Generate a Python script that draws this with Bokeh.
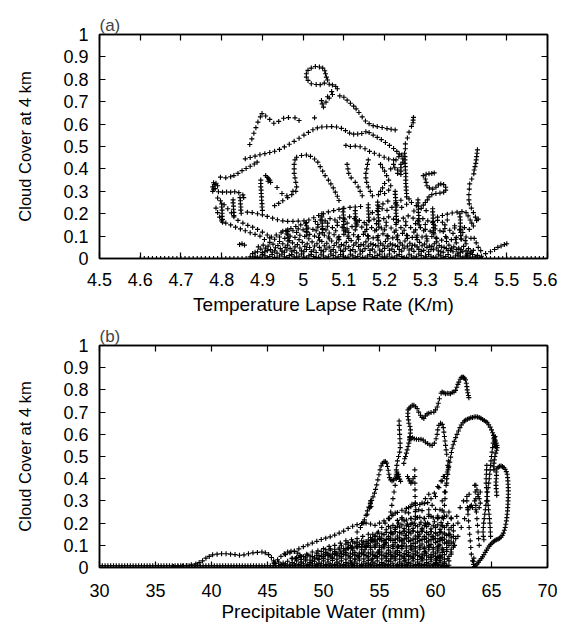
from bokeh.plotting import figure
from bokeh.models import FixedTicker, LinearAxis, CustomJSTickFormatter
from bokeh.layouts import column
from bokeh.embed import file_html
from bokeh.resources import INLINE

# ---------------- tick values ----------------
a_xticks = [4.5, 4.6, 4.7, 4.8, 4.9, 5.0, 5.1, 5.2, 5.3, 5.4, 5.5, 5.6]
b_xticks = [30, 35, 40, 45, 50, 55, 60, 65, 70]
yticks = [0, 0.1, 0.2, 0.3, 0.4, 0.5, 0.6, 0.7, 0.8, 0.9, 1.0]

# ================= panel (a): lapse rate (K/m) vs cloud cover =================
a_base_x = [4.60, 4.61, 4.62, 4.63, 4.64, 4.65, 4.66, 4.67, 4.68, 4.69, 4.70, 4.71, 4.72,
            4.73, 4.74, 4.75, 4.76, 4.77, 4.78, 4.79, 4.80, 4.81, 4.82, 4.83, 4.84, 4.85,
            4.86, 4.87, 4.88, 5.44, 5.45, 5.46, 5.47, 5.48, 5.49, 5.50, 5.51, 5.52, 5.53,
            5.54, 5.55, 5.56, 5.57, 5.58, 5.59, 5.60]

a_top_loop = [(5.020,0.780),(5.012,0.795),(5.008,0.810),(5.008,0.825),(5.012,0.840),(5.020,0.850),
    (5.030,0.857),(5.040,0.855),(5.048,0.850),(5.053,0.838),(5.055,0.825),(5.057,0.810),(5.060,0.797),
    (5.052,0.783),(5.042,0.776),(5.032,0.777),(5.064,0.778),(5.072,0.775),(5.080,0.768),(5.084,0.758),
    (5.045,0.705),(5.047,0.690),(5.050,0.676),(5.056,0.698),(5.064,0.716),(5.072,0.732),(5.070,0.745),
    (5.060,0.722),(5.090,0.726),(5.100,0.720),(5.108,0.707),(5.116,0.693),(5.124,0.680),(5.130,0.668),
    (5.137,0.652),(5.145,0.632),(5.153,0.614),(5.162,0.602),(5.172,0.593),(5.182,0.589),(5.194,0.585),
    (5.206,0.580),(5.216,0.577),(5.226,0.574)]

a_arcs = [(4.858,0.445),(4.870,0.451),(4.882,0.457),(4.894,0.463),(4.906,0.468),(4.918,0.473),
    (4.930,0.479),(4.942,0.487),(4.954,0.498),(4.966,0.510),(4.978,0.523),(4.990,0.537),(5.002,0.551),
    (5.013,0.563),(5.024,0.575),(5.035,0.583),(5.046,0.587),(5.058,0.588),(5.070,0.589),(5.082,0.587),
    (5.094,0.581),(5.104,0.571),(5.114,0.560),(5.124,0.555),(5.134,0.556),(5.144,0.558),(5.154,0.566),
    (5.162,0.562),(5.172,0.551),(5.182,0.541),(5.192,0.531),(5.202,0.518),(5.212,0.505),(5.222,0.491),
    (5.230,0.478),(5.236,0.467),
    (5.105,0.505),(5.116,0.500),(5.128,0.502),(5.140,0.499),(5.152,0.490),(5.163,0.478),(5.175,0.470),
    (5.187,0.461),(5.199,0.452),(5.210,0.444),(5.222,0.440),
    (4.869,0.509),(4.874,0.534),(4.879,0.559),(4.884,0.584),(4.889,0.609),(4.895,0.632),(4.899,0.647),
    (4.908,0.636),(4.918,0.621),(4.928,0.604),(4.940,0.612),(4.952,0.626),(4.964,0.629),(4.980,0.628),
    (4.990,0.616),(5.028,0.628)]

a_hook = [(4.984,0.452),(4.996,0.460),(5.008,0.462),(5.018,0.456),(5.028,0.444),(5.036,0.430),
    (5.042,0.410),(5.048,0.390),(5.054,0.370),(5.062,0.350),(5.068,0.333),(5.074,0.315),(5.079,0.296),
    (5.084,0.278),(5.088,0.259),(4.980,0.440),(4.978,0.420),(4.978,0.400),(4.978,0.380),(4.980,0.360),
    (4.982,0.340),(4.984,0.320),(4.982,0.300),(4.972,0.285),(4.962,0.272),(4.950,0.258),(4.940,0.246),
    (4.930,0.236),(4.936,0.317),(4.948,0.290),(4.960,0.280),(4.975,0.300)]

a_left = [(4.778,0.300),(4.780,0.310),(4.778,0.320),(4.782,0.330),(4.786,0.336),(4.780,0.338),
    (4.790,0.325),(4.784,0.312),
    (4.797,0.363),(4.810,0.360),(4.822,0.365),(4.830,0.370),(4.840,0.380),(4.850,0.392),(4.860,0.402),
    (4.870,0.412),(4.880,0.422),(4.887,0.430),
    (4.792,0.298),(4.802,0.296),(4.812,0.297),(4.822,0.296),(4.832,0.298),(4.842,0.294),(4.852,0.284),
    (4.854,0.272),
    (4.790,0.270),(4.797,0.258),(4.806,0.240),(4.815,0.222),(4.824,0.204),(4.830,0.186),(4.840,0.170),
    (4.852,0.158),(4.864,0.148),(4.876,0.140),(4.888,0.130),(4.900,0.118),(4.912,0.105),(4.922,0.096),
    (4.786,0.225),(4.790,0.205),(4.795,0.185),(4.800,0.168),(4.810,0.158),(4.822,0.150),(4.834,0.140),
    (4.846,0.132),(4.858,0.124),(4.870,0.115),(4.882,0.108),(4.894,0.100),
    (4.800,0.244),(4.800,0.230),(4.801,0.216),(4.801,0.202),(4.801,0.188),(4.802,0.175),(4.802,0.162),
    (4.828,0.262),(4.828,0.248),(4.829,0.234),(4.829,0.220),(4.830,0.206),(4.830,0.192),
    (4.845,0.272),(4.846,0.258),(4.846,0.244),(4.847,0.230),(4.847,0.216),(4.848,0.202),
    (4.896,0.350),(4.896,0.335),(4.896,0.320),(4.897,0.305),(4.897,0.290),(4.898,0.275),(4.898,0.260),
    (4.899,0.245),(4.899,0.230),(4.900,0.215),
    (4.912,0.362),(4.915,0.356),(4.918,0.350),(4.914,0.345),(4.920,0.340),(4.908,0.370),
    (4.850,0.066),(4.844,0.063),(4.856,0.060),
    (4.863,0.207),(4.875,0.205),(4.888,0.200),(4.900,0.195),(4.912,0.188),(4.925,0.180),(4.937,0.173),
    (4.950,0.168),(4.962,0.166),(4.975,0.166),(4.988,0.167),(5.002,0.168),(5.014,0.172),(5.026,0.182),
    (5.038,0.192),(5.050,0.200),(5.062,0.208),(5.075,0.214),(5.088,0.219),(5.100,0.224),(5.115,0.228),
    (5.128,0.230),(5.141,0.232),
    (4.934,0.105),(4.946,0.115),(4.958,0.125),(4.970,0.134),(4.982,0.143),(4.994,0.150),(5.006,0.155)]

a_right = [(5.215,0.400),(5.222,0.420),(5.228,0.440),(5.235,0.455),(5.242,0.462),(5.249,0.470),
    (5.250,0.455),(5.250,0.440),(5.250,0.425),(5.251,0.410),(5.251,0.395),(5.252,0.380),(5.252,0.365),
    (5.252,0.350),(5.252,0.335),(5.253,0.320),(5.253,0.305),(5.254,0.290),(5.254,0.275),(5.240,0.420),
    (5.240,0.405),(5.240,0.390),(5.240,0.375),(5.232,0.395),(5.232,0.380),(5.225,0.405),(5.245,0.430),
    (5.245,0.445),
    (5.251,0.490),(5.251,0.512),(5.256,0.538),(5.260,0.564),(5.266,0.590),(5.270,0.606),(5.270,0.618),
    (5.271,0.630),
    (5.160,0.440),(5.158,0.420),(5.156,0.400),(5.154,0.380),(5.154,0.360),(5.156,0.340),(5.160,0.320),
    (5.165,0.300),(5.170,0.280),
    (5.190,0.420),(5.195,0.405),(5.200,0.390),(5.205,0.370),(5.210,0.350),(5.200,0.335),(5.195,0.315),
    (5.190,0.300),(5.185,0.285),(5.200,0.290),(5.210,0.305),(5.215,0.325),
    (5.108,0.420),(5.110,0.400),(5.112,0.380),(5.118,0.360),(5.128,0.340),(5.135,0.320),(5.140,0.300),
    (5.145,0.280),
    (5.295,0.370),(5.302,0.376),(5.309,0.378),(5.316,0.380),(5.322,0.382),(5.300,0.355),(5.302,0.340),
    (5.304,0.325),(5.310,0.315),(5.318,0.310),(5.326,0.318),(5.332,0.328),(5.338,0.333),(5.345,0.330),
    (5.350,0.318),(5.350,0.305),(5.345,0.296),(5.336,0.292),(5.326,0.290),(5.316,0.285),(5.309,0.275),
    (5.305,0.262),(5.300,0.250),(5.295,0.238),
    (5.428,0.485),(5.427,0.470),(5.426,0.455),(5.425,0.440),(5.424,0.425),(5.422,0.410),(5.420,0.395),
    (5.419,0.378),(5.414,0.355),(5.409,0.333),(5.408,0.310),(5.407,0.285),(5.407,0.262),(5.408,0.244),
    (5.413,0.225),(5.418,0.205),(5.423,0.185),(5.426,0.170),(5.430,0.176),
    (5.330,0.185),(5.342,0.192),(5.354,0.198),(5.366,0.203),(5.378,0.207),(5.390,0.210),(5.400,0.205),
    (5.405,0.190),(5.410,0.172),(5.414,0.158),(5.418,0.145),
    (5.438,0.010),(5.448,0.022),(5.460,0.030),(5.470,0.040),(5.478,0.050),(5.486,0.056),(5.494,0.062),
    (5.500,0.066),(5.436,0.035),(5.430,0.050),(5.425,0.070),(5.420,0.090)]

a_mass = [(4.870,0.008),(4.882,0.010),(4.894,0.006),(4.906,0.012),(4.918,0.009),(4.930,0.005),
    (4.942,0.011),(4.954,0.008),(4.966,0.013),(4.978,0.007),(4.990,0.010),(5.002,0.006),(5.014,0.012),
    (5.026,0.009),(5.038,0.005),(5.050,0.011),(5.062,0.008),(5.074,0.013),(5.086,0.007),(5.098,0.010),
    (5.110,0.006),(5.122,0.012),(5.134,0.009),(5.146,0.005),(5.158,0.011),(5.170,0.008),(5.182,0.013),
    (5.194,0.007),(5.206,0.010),(5.218,0.006),(5.230,0.012),(5.242,0.009),(5.254,0.005),(5.266,0.011),
    (5.278,0.008),(5.290,0.013),(5.302,0.007),(5.314,0.010),(5.326,0.006),(5.338,0.012),(5.350,0.009),
    (5.362,0.005),(5.374,0.011),(5.386,0.008),(5.398,0.010),(5.410,0.006),(5.422,0.008),(5.434,0.004),
    (4.876,0.022),(4.888,0.030),(4.900,0.026),(4.912,0.035),(4.924,0.028),(4.936,0.024),(4.948,0.033),
    (4.960,0.038),(4.972,0.030),(4.984,0.025),(4.996,0.034),(5.008,0.040),(5.020,0.031),(5.032,0.027),
    (5.044,0.036),(5.056,0.042),(5.068,0.033),(5.080,0.028),(5.092,0.037),(5.104,0.043),(5.116,0.035),
    (5.128,0.030),(5.140,0.038),(5.152,0.044),(5.164,0.036),(5.176,0.029),(5.188,0.038),(5.200,0.045),
    (5.212,0.037),(5.224,0.031),(5.236,0.040),(5.248,0.046),(5.260,0.038),(5.272,0.032),(5.284,0.041),
    (5.296,0.036),(5.308,0.030),(5.320,0.039),(5.332,0.034),(5.344,0.028),(5.356,0.035),(5.368,0.030),
    (5.380,0.024),(5.392,0.030),(5.404,0.022),(5.416,0.018),(5.428,0.014),
    (4.890,0.052),(4.902,0.060),(4.914,0.055),(4.926,0.064),(4.938,0.058),(4.950,0.066),(4.962,0.060),
    (4.974,0.070),(4.986,0.062),(4.998,0.072),(5.010,0.065),(5.022,0.074),(5.034,0.066),(5.046,0.076),
    (5.058,0.068),(5.070,0.078),(5.082,0.070),(5.094,0.062),(5.106,0.072),(5.118,0.080),(5.130,0.070),
    (5.142,0.062),(5.154,0.074),(5.166,0.066),(5.178,0.058),(5.190,0.068),(5.202,0.076),(5.214,0.066),
    (5.226,0.058),(5.238,0.070),(5.250,0.078),(5.262,0.068),(5.274,0.060),(5.286,0.072),(5.298,0.064),
    (5.310,0.056),(5.322,0.066),(5.334,0.058),(5.346,0.050),(5.358,0.060),(5.370,0.052),(5.382,0.046),
    (5.394,0.054),(5.406,0.044),(5.418,0.036),
    (4.905,0.085),(4.918,0.092),(4.930,0.086),(4.942,0.096),(4.955,0.090),(4.968,0.100),(4.980,0.094),
    (4.992,0.104),(5.004,0.098),(5.016,0.108),(5.028,0.100),(5.040,0.110),(5.052,0.104),(5.064,0.114),
    (5.076,0.106),(5.088,0.098),(5.100,0.108),(5.112,0.116),(5.124,0.106),(5.136,0.098),(5.148,0.108),
    (5.160,0.100),(5.172,0.092),(5.184,0.102),(5.196,0.110),(5.208,0.100),(5.220,0.092),(5.232,0.104),
    (5.244,0.112),(5.256,0.102),(5.268,0.094),(5.280,0.104),(5.292,0.096),(5.304,0.088),(5.316,0.098),
    (5.328,0.090),(5.340,0.082),(5.352,0.092),(5.364,0.084),(5.376,0.094),(5.388,0.086),(5.400,0.096),
    (5.412,0.090),
    (4.950,0.122),(4.962,0.128),(4.975,0.124),(4.988,0.132),(5.000,0.128),(5.012,0.136),(5.024,0.130),
    (5.036,0.140),(5.048,0.134),(5.060,0.144),(5.072,0.138),(5.084,0.148),(5.096,0.140),(5.108,0.132),
    (5.120,0.142),(5.132,0.150),(5.144,0.140),(5.156,0.130),(5.168,0.138),(5.180,0.128),(5.192,0.136),
    (5.204,0.146),(5.216,0.136),(5.228,0.126),(5.240,0.138),(5.252,0.148),(5.264,0.138),(5.276,0.128),
    (5.288,0.138),(5.300,0.130),(5.312,0.122),(5.324,0.132),(5.336,0.124),(5.348,0.134),(5.360,0.126),
    (5.372,0.136),(5.384,0.128),(5.396,0.138),(5.408,0.130),
    (5.030,0.165),(5.042,0.172),(5.054,0.168),(5.066,0.178),(5.078,0.172),(5.090,0.182),(5.102,0.176),
    (5.114,0.186),(5.126,0.178),(5.138,0.170),(5.150,0.160),(5.162,0.168),(5.174,0.176),(5.186,0.168),
    (5.198,0.178),(5.210,0.186),(5.222,0.176),(5.234,0.168),(5.246,0.180),(5.258,0.190),(5.270,0.180),
    (5.282,0.170),(5.294,0.178),(5.306,0.168),(5.318,0.160),(5.330,0.170),(5.342,0.162),(5.354,0.172),
    (5.170,0.205),(5.182,0.214),(5.194,0.222),(5.206,0.215),(5.218,0.228),(5.230,0.238),(5.242,0.228),
    (5.254,0.242),(5.266,0.250),(5.278,0.236),(5.290,0.224),(5.302,0.214),(5.240,0.260),(5.228,0.250),
    (5.260,0.266),(5.272,0.212),(5.196,0.244),(5.208,0.256),(5.186,0.232)]

a_mass_dense = [(4.876,0.002),(4.888,0.004),(4.900,0.017),(4.912,0.003),(4.924,0.018),(4.936,0.002),
    (4.948,0.019),(4.960,0.004),(4.972,0.017),(4.984,0.003),(4.996,0.020),(5.008,0.002),(5.020,0.018),
    (5.032,0.004),(5.044,0.019),(5.056,0.003),(5.068,0.020),(5.080,0.002),(5.092,0.018),(5.104,0.004),
    (5.116,0.019),(5.128,0.003),(5.140,0.020),(5.152,0.002),(5.164,0.018),(5.176,0.004),(5.188,0.019),
    (5.200,0.003),(5.212,0.020),(5.224,0.002),(5.236,0.018),(5.248,0.004),(5.260,0.019),(5.272,0.003),
    (5.284,0.020),(5.296,0.002),(5.308,0.018),(5.320,0.004),(5.332,0.019),(5.344,0.003),(5.356,0.018),
    (5.368,0.002),(5.380,0.015),(5.392,0.003),(5.404,0.012),(5.416,0.002),(5.428,0.006),
    (4.896,0.042),(4.908,0.046),(4.920,0.040),(4.932,0.048),(4.944,0.044),(4.956,0.050),(4.968,0.045),
    (4.980,0.052),(4.992,0.047),(5.004,0.054),(5.016,0.049),(5.028,0.056),(5.040,0.050),(5.052,0.057),
    (5.064,0.051),(5.076,0.058),(5.088,0.052),(5.100,0.059),(5.112,0.053),(5.124,0.060),(5.136,0.054),
    (5.148,0.061),(5.160,0.055),(5.172,0.062),(5.184,0.056),(5.196,0.060),(5.208,0.055),(5.220,0.061),
    (5.232,0.054),(5.244,0.060),(5.256,0.055),(5.268,0.059),(5.280,0.052),(5.292,0.057),(5.304,0.050),
    (5.316,0.054),(5.328,0.047),(5.340,0.051),(5.352,0.044),(5.364,0.046),(5.376,0.040),(5.388,0.040),
    (5.400,0.034),(5.412,0.030),
    (5.040,0.082),(5.064,0.088),(5.088,0.084),(5.112,0.090),(5.136,0.086),(5.160,0.088),(5.184,0.082),
    (5.208,0.088),(5.232,0.084),(5.256,0.090),(5.280,0.084),(5.304,0.078),(5.328,0.074),(5.352,0.076),
    (5.376,0.070),(5.400,0.066)]

a_mass_extra = [(4.882,0.028),(4.906,0.030),(4.930,0.034),(4.954,0.028),(4.978,0.036),(5.002,0.030),
    (5.026,0.038),(5.050,0.030),(5.074,0.040),(5.098,0.032),(5.122,0.040),(5.146,0.032),(5.170,0.042),
    (5.194,0.032),(5.218,0.042),(5.242,0.033),(5.266,0.043),(5.290,0.032),(5.314,0.040),(5.338,0.030),
    (5.362,0.037),(5.386,0.028),(5.410,0.024),
    (4.918,0.072),(4.942,0.076),(4.966,0.080),(4.990,0.084),(5.014,0.088),(5.038,0.094),(5.062,0.096),
    (5.086,0.092),(5.110,0.100),(5.134,0.096),(5.158,0.102),(5.182,0.094),(5.206,0.102),(5.230,0.096),
    (5.254,0.104),(5.278,0.094),(5.302,0.100),(5.326,0.092),(5.350,0.098),(5.374,0.086),(5.398,0.080),
    (4.960,0.110),(4.984,0.116),(5.008,0.120),(5.032,0.124),(5.056,0.128),(5.080,0.124),(5.104,0.122),
    (5.128,0.128),(5.152,0.120),(5.176,0.124),(5.200,0.128),(5.224,0.118),(5.248,0.126),(5.272,0.118),
    (5.296,0.124),(5.320,0.116),(5.344,0.120),(5.368,0.112),(5.392,0.116),
    (5.036,0.152),(5.060,0.158),(5.084,0.162),(5.108,0.158),(5.132,0.164),(5.156,0.150),(5.180,0.156),
    (5.204,0.162),(5.228,0.152),(5.252,0.164),(5.276,0.156),(5.300,0.152),(5.324,0.146),(5.348,0.150),
    (5.372,0.146)]

a_columns = [(5.046,0.200),(5.046,0.186),(5.046,0.172),(5.047,0.158),(5.047,0.144),(5.047,0.130),(5.048,0.116),
    (5.098,0.222),(5.098,0.208),(5.099,0.194),(5.099,0.180),(5.099,0.166),(5.100,0.152),(5.100,0.138),(5.100,0.124),
    (5.128,0.214),(5.128,0.200),(5.129,0.186),(5.129,0.172),(5.130,0.158),(5.130,0.144),
    (5.183,0.252),(5.183,0.238),(5.184,0.224),(5.184,0.210),(5.184,0.196),(5.185,0.182),(5.185,0.168),
    (5.185,0.154),(5.186,0.140),
    (5.226,0.300),(5.226,0.286),(5.227,0.272),(5.227,0.258),(5.227,0.244),(5.228,0.230),(5.228,0.216),
    (5.228,0.202),(5.229,0.188),(5.229,0.174),(5.229,0.160),
    (5.282,0.262),(5.282,0.248),(5.283,0.234),(5.283,0.220),(5.283,0.206),(5.284,0.192),(5.284,0.178),
    (5.284,0.164),(5.285,0.150),
    (5.318,0.222),(5.318,0.208),(5.319,0.194),(5.319,0.180),(5.319,0.166),(5.320,0.152),(5.320,0.138),
    (5.320,0.124),(5.321,0.110),
    (5.385,0.200),(5.385,0.186),(5.386,0.172),(5.386,0.158),(5.386,0.144),(5.387,0.130),(5.387,0.116),
    (5.387,0.102),(5.388,0.088),
    (5.008,0.160),(5.008,0.146),(5.009,0.132),(5.009,0.118),(5.009,0.104),
    (4.962,0.120),(4.962,0.106),(4.963,0.092),(4.963,0.078),
    (5.160,0.240),(5.160,0.226),(5.160,0.212),(5.161,0.198),(5.161,0.184),(5.161,0.170)]

# ================= panel (b): precipitable water (mm) vs cloud cover =================
b_base0_x = [30.0, 30.5, 31.0, 31.5, 32.0, 32.5, 33.0, 33.5, 34.0, 34.5, 35.0, 35.5, 36.0, 36.5,
             37.0, 37.5, 38.0, 38.5, 39.0, 39.5, 40.0, 40.5, 41.0, 41.5, 42.0, 42.5, 43.0, 43.5,
             44.0, 44.5, 45.0, 45.5, 46.0, 46.5, 47.0, 47.5, 48.0, 48.5, 49.0, 49.5, 50.0, 50.5,
             51.0, 51.5, 52.0, 52.5, 53.0, 53.5, 54.0, 54.5, 55.0, 55.5, 56.0, 56.5, 57.0, 57.5,
             58.0, 58.5, 59.0, 59.5, 60.0, 60.5, 61.0]
b_base1_x = [30.25, 30.75, 31.25, 31.75, 32.25, 32.75, 33.25, 33.75, 34.25, 34.75, 35.25, 35.75,
             36.25, 36.75, 37.25, 37.75, 38.25, 38.75, 39.25, 39.75, 40.25, 40.75, 41.25, 41.75,
             42.25, 42.75, 43.25, 43.75, 44.25, 44.75, 45.25, 45.75, 46.25, 46.75, 47.25, 47.75,
             48.25, 48.75, 49.25, 49.75, 50.25, 50.75, 51.25, 51.75, 52.25, 52.75, 53.25, 53.75,
             54.25, 54.75, 55.25, 55.75, 56.25, 56.75, 57.25, 57.75, 58.25, 58.75, 59.25, 59.75,
             60.25, 60.75]

b_low_chain = [(36.6,0.005),(37.0,0.006),(37.4,0.007),(37.8,0.009),(38.2,0.012),(38.6,0.016),
    (38.9,0.022),(39.2,0.030),(39.5,0.042),(39.8,0.050),(40.1,0.057),(40.5,0.060),(40.9,0.062),
    (41.3,0.062),(41.7,0.060),(42.1,0.058),(42.5,0.055),(42.9,0.057),(43.3,0.062),(43.7,0.066),
    (44.1,0.068),(44.5,0.070),(44.8,0.066),(45.1,0.058),(45.35,0.045),(45.55,0.030),(45.7,0.018),
    (45.6,0.020),(45.9,0.035),(46.2,0.050),(46.5,0.062),(46.8,0.070),(47.1,0.073),(47.4,0.072),
    (47.7,0.065),(47.9,0.055),(47.8,0.045),(47.5,0.040),(47.2,0.042),
    (46.6,0.058),(47.0,0.066),(47.4,0.074),(47.8,0.084),(48.2,0.094),(48.6,0.102),(49.0,0.110),
    (49.4,0.118),(49.8,0.126),(50.2,0.132),(50.6,0.138),(51.0,0.146),(51.4,0.155),(51.8,0.164),
    (52.2,0.176),(52.6,0.186),(53.0,0.193),(53.4,0.198),(53.8,0.200),(54.2,0.196),(54.6,0.190)]

b_fill = [(45.6,0.020),(46.0,0.025),(46.4,0.020),(46.8,0.028),(47.2,0.022),(47.6,0.030),(48.0,0.024),
    (48.4,0.030),(48.8,0.022),(49.2,0.028),(49.6,0.020),(50.0,0.030),(50.4,0.025),(50.8,0.032),
    (51.2,0.024),(51.6,0.030),(52.0,0.022),(52.4,0.030),(52.8,0.025),(53.2,0.033),(53.6,0.026),
    (54.0,0.032),(54.4,0.024),(54.8,0.030),(55.2,0.022),(55.6,0.030),(56.0,0.026),(56.4,0.033),
    (56.8,0.025),(57.2,0.030),(57.6,0.022),(58.0,0.030),(58.4,0.025),(58.8,0.030),(59.2,0.022),
    (59.6,0.028),(60.0,0.020),(60.4,0.024),(60.8,0.016),(61.2,0.010),
    (47.2,0.040),(47.6,0.046),(48.0,0.050),(48.4,0.044),(48.8,0.052),(49.2,0.046),(49.6,0.054),
    (50.0,0.048),(50.4,0.055),(50.8,0.047),(51.2,0.056),(51.6,0.050),(52.0,0.057),(52.4,0.049),
    (52.8,0.056),(53.2,0.050),(53.6,0.058),(54.0,0.050),(54.4,0.057),(54.8,0.049),(55.2,0.056),
    (55.6,0.050),(56.0,0.058),(56.4,0.050),(56.8,0.056),(57.2,0.048),(57.6,0.055),(58.0,0.047),
    (58.4,0.054),(58.8,0.046),(59.2,0.053),(59.6,0.045),(60.0,0.050),(60.4,0.042),(60.8,0.038),
    (61.2,0.030),
    (49.4,0.065),(49.8,0.072),(50.2,0.068),(50.6,0.078),(51.0,0.072),(51.4,0.082),(51.8,0.075),
    (52.2,0.085),(52.6,0.078),(53.0,0.088),(53.4,0.080),(53.8,0.090),(54.2,0.082),(54.6,0.090),
    (55.0,0.080),(55.4,0.088),(55.8,0.078),(56.2,0.086),(56.6,0.076),(57.0,0.085),(57.4,0.075),
    (57.8,0.083),(58.2,0.074),(58.6,0.082),(59.0,0.072),(59.4,0.080),(59.8,0.070),(60.2,0.078),
    (60.6,0.068),(61.0,0.072),(61.4,0.060),
    (51.6,0.098),(52.0,0.105),(52.4,0.100),(52.8,0.110),(53.2,0.104),(53.6,0.115),(54.0,0.108),
    (54.4,0.118),(54.8,0.110),(55.2,0.120),(55.6,0.112),(56.0,0.122),(56.4,0.112),(56.8,0.120),
    (57.2,0.110),(57.6,0.118),(58.0,0.108),(58.4,0.116),(58.8,0.106),(59.2,0.114),(59.6,0.104),
    (60.0,0.112),(60.4,0.102),(60.8,0.110),(61.2,0.100),(61.6,0.092),
    (54.2,0.135),(54.6,0.142),(55.0,0.138),(55.4,0.148),(55.8,0.140),(56.2,0.150),(56.6,0.142),
    (57.0,0.152),(57.4,0.144),(57.8,0.152),(58.2,0.142),(58.6,0.150),(59.0,0.140),(59.4,0.148),
    (59.8,0.138),(60.2,0.146),(60.6,0.136),(61.0,0.144),(61.4,0.134),(61.8,0.130),
    (55.6,0.170),(56.0,0.178),(56.4,0.172),(56.8,0.182),(57.2,0.175),(57.6,0.185),(58.0,0.176),
    (58.4,0.186),(58.8,0.176),(59.2,0.184),(59.6,0.174),(60.0,0.182),(60.4,0.172),(60.8,0.180),
    (61.2,0.170),(61.6,0.165),
    (57.2,0.210),(57.8,0.220),(58.4,0.225),(59.0,0.220),(59.6,0.230),(60.2,0.225),(60.8,0.230),
    (61.4,0.220),(62.0,0.200)]

b_fill_dense = [(46.2,0.014),(46.6,0.016),(47.0,0.012),(47.4,0.016),(47.8,0.014),(48.2,0.017),
    (48.6,0.013),(49.0,0.016),(49.4,0.014),(49.8,0.017),(50.2,0.013),(50.6,0.016),(51.0,0.014),
    (51.4,0.017),(51.8,0.013),(52.2,0.016),(52.6,0.014),(53.0,0.017),(53.4,0.013),(53.8,0.016),
    (54.2,0.014),(54.6,0.017),(55.0,0.013),(55.4,0.016),(55.8,0.014),(56.2,0.017),(56.6,0.013),
    (57.0,0.016),(57.4,0.014),(57.8,0.017),(58.2,0.013),(58.6,0.016),(59.0,0.014),(59.4,0.017),
    (59.8,0.013),(60.2,0.014),(60.6,0.010),(61.0,0.006),
    (48.0,0.036),(48.4,0.038),(48.8,0.034),(49.2,0.039),(49.6,0.036),(50.0,0.040),(50.4,0.037),
    (50.8,0.041),(51.2,0.038),(51.6,0.042),(52.0,0.038),(52.4,0.042),(52.8,0.039),(53.2,0.043),
    (53.6,0.039),(54.0,0.043),(54.4,0.040),(54.8,0.043),(55.2,0.039),(55.6,0.042),(56.0,0.039),
    (56.4,0.042),(56.8,0.038),(57.2,0.041),(57.6,0.037),(58.0,0.040),(58.4,0.036),(58.8,0.039),
    (59.2,0.035),(59.6,0.037),(60.0,0.033),(60.4,0.032),(60.8,0.026),
    (50.0,0.060),(50.4,0.062),(50.8,0.060),(51.2,0.065),(51.6,0.062),(52.0,0.067),(52.4,0.064),
    (52.8,0.068),(53.2,0.065),(53.6,0.070),(54.0,0.066),(54.4,0.070),(54.8,0.066),(55.2,0.070),
    (55.6,0.065),(56.0,0.069),(56.4,0.064),(56.8,0.068),(57.2,0.063),(57.6,0.067),(58.0,0.062),
    (58.4,0.066),(58.8,0.060),(59.2,0.064),(59.6,0.058),(60.0,0.062),(60.4,0.056),(60.8,0.058),
    (61.2,0.050),
    (52.2,0.088),(52.6,0.092),(53.0,0.096),(53.4,0.094),(53.8,0.100),(54.2,0.097),(54.6,0.102),
    (55.0,0.098),(55.4,0.103),(55.8,0.098),(56.2,0.102),(56.6,0.097),(57.0,0.100),(57.4,0.096),
    (57.8,0.099),(58.2,0.094),(58.6,0.098),(59.0,0.092),(59.4,0.096),(59.8,0.090),(60.2,0.094),
    (60.6,0.088),(61.0,0.090),(61.4,0.082),
    (54.0,0.124),(54.4,0.128),(54.8,0.125),(55.2,0.131),(55.6,0.127),(56.0,0.133),(56.4,0.128),
    (56.8,0.134),(57.2,0.129),(57.6,0.134),(58.0,0.128),(58.4,0.133),(58.8,0.127),(59.2,0.132),
    (59.6,0.126),(60.0,0.130),(60.4,0.124),(60.8,0.128),(61.2,0.120),(61.6,0.115),
    (56.0,0.158),(56.4,0.162),(56.8,0.158),(57.2,0.164),(57.6,0.160),(58.0,0.165),(58.4,0.160),
    (58.8,0.164),(59.2,0.158),(59.6,0.162),(60.0,0.156),(60.4,0.160),(60.8,0.155),(61.2,0.150),
    (57.5,0.196),(58.1,0.200),(58.7,0.204),(59.3,0.200),(59.9,0.206),(60.5,0.202),(61.1,0.198)]

b_fill_extra = [(48.2,0.050),(48.6,0.056),(49.0,0.049),(49.4,0.055),(49.8,0.050),(50.2,0.057),
    (50.6,0.051),(51.0,0.058),(51.4,0.052),(51.8,0.059),(52.2,0.053),(52.6,0.060),(53.0,0.054),
    (53.4,0.061),(53.8,0.054),(54.2,0.061),(54.6,0.054),(55.0,0.060),(55.4,0.053),(55.8,0.060),
    (56.2,0.052),(56.6,0.059),(57.0,0.051),(57.4,0.058),(57.8,0.050),(58.2,0.057),(58.6,0.049),
    (59.0,0.055),(59.4,0.047),(59.8,0.052),(60.2,0.045),(60.6,0.046),
    (50.2,0.080),(50.6,0.084),(51.0,0.082),(51.4,0.088),(51.8,0.085),(52.2,0.091),(52.6,0.087),
    (53.0,0.093),(53.4,0.089),(53.8,0.095),(54.2,0.090),(54.6,0.096),(55.0,0.091),(55.4,0.096),
    (55.8,0.090),(56.2,0.095),(56.6,0.089),(57.0,0.094),(57.4,0.088),(57.8,0.093),(58.2,0.087),
    (58.6,0.091),(59.0,0.085),(59.4,0.090),(59.8,0.083),(60.2,0.087),(60.6,0.080),(61.0,0.080),
    (52.2,0.112),(52.6,0.116),(53.0,0.114),(53.4,0.120),(53.8,0.117),(54.2,0.123),(54.6,0.119),
    (55.0,0.126),(55.4,0.121),(55.8,0.128),(56.2,0.122),(56.6,0.129),(57.0,0.123),(57.4,0.129),
    (57.8,0.122),(58.2,0.128),(58.6,0.121),(59.0,0.127),(59.4,0.120),(59.8,0.125),(60.2,0.118),
    (60.6,0.122),(61.0,0.115),(61.4,0.110),
    (54.4,0.150),(54.8,0.155),(55.2,0.152),(55.6,0.158),(56.0,0.155),(56.4,0.161),(56.8,0.157),
    (57.2,0.163),(57.6,0.158),(58.0,0.164),(58.4,0.158),(58.8,0.163),(59.2,0.157),(59.6,0.161),
    (60.0,0.155),(60.4,0.158),(60.8,0.150),(61.2,0.148),(61.6,0.140),
    (55.8,0.185),(56.2,0.190),(56.6,0.186),(57.0,0.192),(57.4,0.188),(57.8,0.194),(58.2,0.189),
    (58.6,0.195),(59.0,0.190),(59.4,0.194),(59.8,0.188),(60.2,0.192),(60.6,0.186),(61.0,0.188),
    (61.4,0.180),
    (56.6,0.212),(57.0,0.218),(57.4,0.214),(57.8,0.222),(58.2,0.218),(58.6,0.226),(59.0,0.222),
    (59.4,0.230),(59.8,0.224),(60.2,0.232),(60.6,0.226),(61.0,0.232),(61.4,0.224),
    (57.6,0.246),(58.2,0.252),(58.8,0.256),(59.4,0.260),(60.0,0.262),(60.6,0.258),(61.2,0.250)]

b_fan = [(47.5,0.040),(48.0,0.050),(48.5,0.060),(49.0,0.070),(49.5,0.075),(50.0,0.085),(50.5,0.095),
    (51.0,0.100),(51.5,0.110),(52.0,0.120),(52.5,0.125),(53.0,0.130),(53.5,0.140),(54.0,0.150),
    (49.0,0.030),(49.5,0.040),(50.0,0.050),(50.5,0.055),(51.0,0.065),(51.5,0.070),(52.0,0.080),
    (52.5,0.090),(53.0,0.095),(53.5,0.105),(54.0,0.110),(54.5,0.120),(55.0,0.130),
    (52.5,0.020),(52.8,0.035),(53.1,0.050),(53.4,0.065),(53.7,0.080),(54.0,0.100),(54.3,0.120),
    (54.6,0.140),(54.9,0.160),(55.2,0.180),(55.5,0.200),(55.8,0.220),(56.1,0.235),(56.4,0.245),
    (54.0,0.020),(54.3,0.035),(54.6,0.050),(54.9,0.070),(55.2,0.090),(55.5,0.110),(55.8,0.130),
    (56.1,0.155),(56.4,0.180),(56.7,0.200),(57.0,0.225),(57.3,0.250),(57.6,0.270),(57.9,0.285),
    (58.2,0.290),
    (55.5,0.010),(55.8,0.030),(56.1,0.050),(56.4,0.070),(56.7,0.095),(57.0,0.120),(57.3,0.145),
    (57.6,0.170),(57.9,0.200),(58.2,0.230),(58.5,0.260),(58.8,0.290),(59.1,0.310),(59.4,0.330),
    (57.0,0.010),(57.3,0.030),(57.6,0.050),(57.9,0.080),(58.2,0.110),(58.5,0.140),(58.8,0.170),
    (59.1,0.200),(59.4,0.240),(59.7,0.280),(60.0,0.320),(60.3,0.360),(60.6,0.390),(60.8,0.410),
    (58.5,0.010),(58.8,0.040),(59.1,0.070),(59.4,0.100),(59.7,0.140),(60.0,0.180),(60.2,0.220),
    (60.4,0.260),(60.6,0.300),(60.8,0.340),(61.0,0.380),(61.1,0.420),(61.15,0.450),
    (61.15,0.480),(61.10,0.460),(61.05,0.430),(61.00,0.400),(60.95,0.370),(60.90,0.340),(60.85,0.310),
    (60.80,0.280),(60.75,0.250),(60.70,0.220),(60.60,0.190),(60.50,0.160),(60.40,0.130),(60.30,0.100),
    (60.20,0.070),(60.10,0.040),(60.00,0.020),
    (59.8,0.000),(60.1,0.020),(60.4,0.050),(60.7,0.080),(61.0,0.110),(61.3,0.150),(61.6,0.190),
    (61.9,0.230),(62.2,0.270),(62.5,0.300),(62.8,0.320),(63.0,0.330),
    (60.5,0.000),(60.8,0.020),(61.1,0.040),(61.4,0.070),(61.7,0.100),(62.0,0.140),(62.3,0.180),
    (62.6,0.220),(62.9,0.260),(63.2,0.280),(63.5,0.300),(63.8,0.320),(64.0,0.340),
    (63.6,0.370),(63.7,0.350),(63.8,0.330),(63.9,0.310),(64.0,0.290),(63.9,0.270),(63.6,0.260),
    (63.3,0.270),(63.1,0.275),(62.9,0.260),
    (53.0,0.160),(53.3,0.180),(53.6,0.200),(53.9,0.240),(54.1,0.270),(54.2,0.300),
    (56.5,0.400),(56.4,0.370),(56.3,0.340),(56.2,0.310),(56.1,0.280),(56.0,0.250),(55.9,0.220),
    (58.15,0.440),(58.15,0.410),(58.16,0.380),(58.17,0.350),(58.18,0.320),(58.20,0.290),(58.25,0.260),
    (57.5,0.410),(57.6,0.400),(57.7,0.390),(57.8,0.380),(57.9,0.385),(58.0,0.400),
    (55.0,0.200),(55.4,0.210),(55.8,0.222),(56.2,0.236),(56.6,0.248),(57.0,0.258),(57.4,0.266),
    (57.8,0.274),(58.2,0.280),(58.6,0.284),(59.0,0.288),(59.3,0.292),(59.6,0.310),(59.9,0.335),
    (60.2,0.365),(60.5,0.390),(60.7,0.410),
    (62.8,0.300),(62.85,0.270),(62.9,0.240),(62.95,0.210),(63.0,0.180),(63.05,0.150),(63.1,0.120),
    (63.15,0.090),(63.2,0.060),(63.3,0.030),
    (63.5,0.370),(63.55,0.340),(63.6,0.310),(63.6,0.280),(63.65,0.250),(63.7,0.220),(63.75,0.190),
    (63.8,0.160),(63.85,0.130),(63.9,0.100)]

b_peak_left = [(53.50,0.200),(53.65,0.215),(53.80,0.235),(53.92,0.255),(54.05,0.272),(54.18,0.288),
    (54.30,0.302),(54.42,0.318),(54.55,0.335),(54.65,0.352),(54.75,0.372),(54.85,0.395),(54.95,0.418),
    (55.05,0.440),(55.15,0.458),(55.28,0.470),(55.40,0.476),(55.52,0.478),(55.64,0.470),(55.72,0.455),
    (55.78,0.438),(55.84,0.420),(55.90,0.405),(56.00,0.395),(56.12,0.390),(56.25,0.394),(56.38,0.402),
    (56.50,0.412),(56.62,0.418),(56.72,0.410),(56.80,0.398),(56.88,0.388),(54.15,0.270),(54.25,0.275),
    (54.20,0.290),(56.60,0.405),(56.70,0.420),(56.55,0.430),
    (56.75,0.660),(56.76,0.640),(56.78,0.620),(56.80,0.600),(56.82,0.580),(56.84,0.560),(56.85,0.540),
    (56.80,0.520),(56.70,0.500),(56.60,0.480),(56.55,0.460),(56.50,0.440),(56.50,0.420)]

b_top_curve = [(57.17,0.469),(57.25,0.490),(57.32,0.500),(57.40,0.515),(57.47,0.530),(57.55,0.545),
    (57.62,0.560),(57.68,0.575),(57.71,0.590),(57.75,0.605),(57.77,0.620),(57.72,0.635),(57.62,0.650),
    (57.58,0.665),(57.53,0.680),(57.53,0.695),(57.55,0.710),(57.65,0.718),(57.77,0.723),(57.92,0.731),
    (58.07,0.731),(58.22,0.724),(58.36,0.716),(58.50,0.700),(58.66,0.686),(58.80,0.676),(58.96,0.671),
    (59.10,0.683),(59.25,0.692),(59.40,0.695),(59.60,0.698),(59.85,0.700),(60.00,0.710),(60.15,0.723),
    (60.25,0.740),(60.35,0.760),(60.50,0.785),(60.60,0.791),(60.75,0.787),(60.89,0.783),(61.05,0.785),
    (61.20,0.784),(61.34,0.783),(61.50,0.789),(61.65,0.790),(61.79,0.798),(61.90,0.812),(62.00,0.825),
    (62.08,0.835),(62.20,0.848),(62.30,0.856),(62.38,0.858),(62.50,0.857),(62.60,0.853),(62.68,0.845),
    (62.75,0.830),(62.80,0.815),(62.83,0.800),(62.88,0.787),(62.94,0.775),(62.98,0.765),
    (57.70,0.585),(57.80,0.578),(57.95,0.585),(58.10,0.580),(58.30,0.578),(58.50,0.577),(58.70,0.578),
    (58.90,0.574),(59.10,0.565),(59.30,0.558),(59.50,0.552),(59.70,0.550),(59.90,0.560),(60.05,0.580),
    (60.15,0.600),(60.20,0.620),(60.30,0.640),(60.45,0.650),(60.60,0.645),(60.70,0.630),(60.75,0.610),
    (60.80,0.590),(60.85,0.570),(60.90,0.550),(60.95,0.530),(61.00,0.510)]

b_right_arcs = [(61.00,0.400),(61.06,0.420),(61.12,0.440),(61.19,0.454),(61.27,0.475),(61.35,0.497),
    (61.42,0.518),(61.49,0.537),(61.58,0.553),(61.68,0.568),(61.80,0.585),(61.92,0.600),(62.05,0.615),
    (62.18,0.630),(62.30,0.642),(62.45,0.652),(62.58,0.660),(62.70,0.664),(62.85,0.668),(63.00,0.671),
    (63.15,0.674),(63.30,0.676),(63.45,0.678),(63.60,0.679),(63.75,0.678),(63.90,0.676),(64.05,0.672),
    (64.20,0.667),(64.35,0.662),(64.50,0.658),(64.62,0.652),(64.75,0.643),(64.88,0.632),(65.00,0.620),
    (65.10,0.607),(65.18,0.595),(65.25,0.585),(65.30,0.575),(65.36,0.570),(65.42,0.560),(65.48,0.550),
    (65.50,0.540),(65.46,0.528),(65.38,0.515),(65.30,0.500),(65.25,0.485),(65.22,0.470),(65.20,0.454),
    (65.22,0.440),(65.25,0.570),(65.32,0.590),(65.28,0.555),(65.35,0.545),(65.20,0.580),
    (65.42,0.430),(65.48,0.445),(65.60,0.452),(65.72,0.456),(65.85,0.457),(65.98,0.455),(66.10,0.450),
    (66.22,0.442),(66.32,0.432),(66.40,0.420),(66.44,0.405),(66.46,0.390),(66.48,0.375),(66.49,0.360),
    (66.50,0.345),(66.50,0.330),(66.49,0.315),(66.48,0.300),(66.47,0.285),(66.45,0.270),(66.43,0.255),
    (66.40,0.240),(66.37,0.225),(66.33,0.210),(66.28,0.195),(66.22,0.180),(66.15,0.168),(66.06,0.155),
    (65.96,0.145),(65.85,0.137),(65.72,0.132),(65.60,0.128),(65.48,0.126),
    (65.45,0.415),(65.42,0.400),(65.40,0.385),(65.40,0.370),(65.42,0.355),(65.45,0.340),(65.47,0.325),
    (65.15,0.560),(65.10,0.540),(65.05,0.520),(65.00,0.500),(64.95,0.480),(64.92,0.460),(64.88,0.440),
    (64.84,0.420),(64.80,0.400),(64.75,0.380),(64.70,0.360),(64.65,0.340),(64.60,0.320),(64.55,0.300),
    (64.50,0.280),(64.45,0.260),(64.40,0.240),(64.35,0.220),(64.30,0.200),(64.27,0.180),(64.25,0.160),
    (64.27,0.140),(64.32,0.125),
    (64.58,0.460),(64.56,0.440),(64.54,0.420),(64.52,0.400),(64.52,0.380),(64.55,0.360),(64.58,0.340),
    (64.62,0.320),(64.66,0.300),(64.70,0.280),(64.74,0.260),(64.78,0.240),(64.82,0.220),(64.85,0.200),
    (64.88,0.180),(64.90,0.160),(64.92,0.140),
    (65.40,0.124),(65.28,0.120),(65.16,0.116),(65.04,0.110),(64.92,0.104),(64.80,0.096),(64.68,0.088),
    (64.56,0.078),(64.44,0.068),(64.32,0.058),(64.20,0.048),(64.08,0.040),(63.96,0.032),(63.84,0.024),
    (63.72,0.016),(63.60,0.010),(63.48,0.004),(63.40,0.000),(63.40,0.014),(63.41,0.028),(63.42,0.042)]


def unpack(*groups):
    xs, ys = [], []
    for g in groups:
        for x, y in g:
            xs.append(x)
            ys.append(y)
    return xs, ys


ax_x, ax_y = unpack(a_top_loop, a_arcs, a_hook, a_left, a_right, a_mass, a_mass_dense,
                    a_mass_extra, a_columns)
ax_x += a_base_x
ax_y += [0.0] * len(a_base_x)

bx_x, bx_y = unpack(b_low_chain, b_fill, b_fill_dense, b_fill_extra, b_fan, b_peak_left,
                    b_top_curve, b_right_arcs)
b_base_all = b_base0_x + b_base1_x
bx_x += b_base_all + b_base_all
bx_y += [0.0] * len(b_base_all) + [0.008] * len(b_base_all)

FONT = "Liberation Sans"


def style_axis(ax, ticks, labels=True):
    ax.ticker = FixedTicker(ticks=ticks)
    ax.major_tick_in = 6
    ax.major_tick_out = 0
    ax.minor_tick_line_color = None
    ax.axis_line_width = 1.5
    ax.major_tick_line_width = 1.2
    ax.axis_line_color = "black"
    ax.major_tick_line_color = "black"
    if labels:
        ax.formatter = CustomJSTickFormatter(code="return String(Number(tick.toFixed(2)));")
        ax.major_label_text_font = FONT
        ax.major_label_text_font_size = "18px"
        ax.major_label_text_color = "black"
        ax.axis_label_text_font = FONT
        ax.axis_label_text_font_style = "normal"
        ax.axis_label_text_color = "black"
    else:
        ax.major_label_text_font_size = "1px"
        ax.major_label_text_color = None
        ax.major_label_standoff = 0


def make_panel(xs, ys, xr, xticks, xlabel, title, height, top, bottom, tick_sd, label_sd):
    p = figure(width=557, height=height, x_range=xr, y_range=(0, 1),
               output_backend="svg", toolbar_location=None,
               min_border_left=99, min_border_right=10,
               min_border_top=top, min_border_bottom=bottom, title=title)
    p.scatter(xs, ys, marker="cross", size=5, line_color="black", line_width=1.15)
    p.grid.visible = False
    p.outline_line_color = "black"
    p.outline_line_width = 1.5
    p.background_fill_color = "white"
    style_axis(p.xaxis[0], xticks)
    style_axis(p.yaxis[0], yticks)
    p.xaxis[0].axis_label = xlabel
    p.yaxis[0].axis_label = "Cloud Cover at 4 km"
    p.xaxis[0].axis_label_text_font_size = "19px"
    p.yaxis[0].axis_label_text_font_size = "16.5px"
    p.xaxis[0].major_label_standoff = tick_sd
    p.yaxis[0].major_label_standoff = 11
    p.xaxis[0].axis_label_standoff = label_sd
    p.yaxis[0].axis_label_standoff = 26
    top_ax = LinearAxis()
    style_axis(top_ax, xticks, labels=False)
    p.add_layout(top_ax, "above")
    right_ax = LinearAxis()
    style_axis(right_ax, yticks, labels=False)
    p.add_layout(right_ax, "right")
    p.title.text_font = FONT
    p.title.text_font_size = "17px"
    p.title.text_font_style = "normal"
    p.title.align = "left"
    p.title.standoff = 0
    return p


pa = make_panel(ax_x, ax_y, (4.5, 5.6), a_xticks, "Temperature Lapse Rate (K/m)", "(a)",
                318, 34, 60, 14, 5)
pb = make_panel(bx_x, bx_y, (30, 70), b_xticks, "Precipitable Water (mm)", "(b)",
                306, 27, 56, 16, 1)

layout = column(pa, pb)
open("out.html", "w").write(file_html(layout, INLINE))
